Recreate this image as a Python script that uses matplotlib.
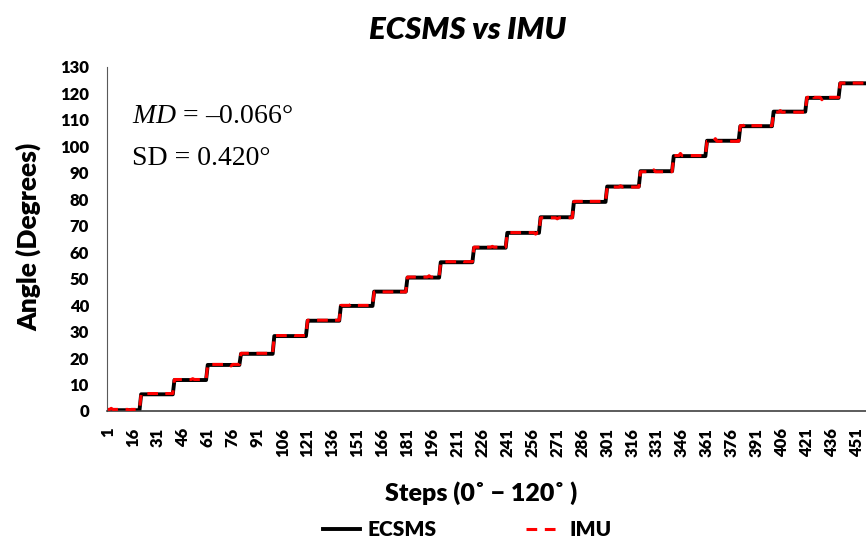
import numpy as np
import matplotlib
matplotlib.use("Agg")
import matplotlib.pyplot as plt

plt.rcParams["mathtext.fontset"] = "custom"
plt.rcParams["mathtext.it"] = "Liberation Serif:italic"
plt.rcParams["mathtext.rm"] = "Liberation Serif"

# Données
n_steps = 456
level_start = [1, 21, 41, 61, 81, 101, 121, 141, 161, 181, 201, 221, 241,
               261, 281, 301, 321, 341, 361, 381, 401, 421, 441]
ecsms_levels = [0.3, 6.3, 11.7, 17.4, 21.6, 28.3, 34.1, 39.7, 45.1, 50.4,
                56.2, 61.7, 67.3, 73.2, 79.0, 84.8, 90.6, 96.3, 102.1,
                107.6, 113.1, 118.3, 123.8]
imu_levels = [0.6, 6.6, 11.9, 17.6, 21.8, 28.5, 34.3, 39.9, 45.0, 50.6,
              56.4, 61.9, 67.4, 73.0, 79.2, 84.6, 90.4, 96.5, 101.9,
              107.8, 112.9, 118.5, 123.9]
# petites bosses de l'IMU (pas, valeur)
imu_bumps = [(3, 1.0), (14, 0.2), (33, 6.9), (52, 12.2), (75, 17.0),
             (98, 22.3), (112, 28.7), (136, 34.6), (147, 40.3), (175, 44.5),
             (194, 51.1), (214, 56.7), (232, 62.2), (258, 66.8), (271, 72.6),
             (289, 79.6), (309, 85.1), (329, 91.1), (345, 97.3), (366, 102.9),
             (384, 108.4), (405, 113.5), (424, 119.6), (430, 117.6),
             (447, 124.2)]

x_ticks = list(range(1, 452, 15))

steps = np.arange(1, n_steps + 1)
ecsms = np.zeros(n_steps)
imu = np.zeros(n_steps)
for i in range(len(level_start)):
    a = level_start[i] - 1
    b = level_start[i + 1] - 1 if i + 1 < len(level_start) else n_steps
    ecsms[a:b] = ecsms_levels[i]
    imu[a:b] = imu_levels[i]
for s, v in imu_bumps:
    imu[s - 1] = v

fig = plt.figure(figsize=(8.66, 5.44), dpi=100)
ax = fig.add_axes([0.1236, 0.2445, 0.8764, 0.6325])

ax.plot(steps, ecsms, color="black", lw=2.8, label="ECSMS", zorder=2)
ax.plot(steps, imu, color="#ff0000", lw=2.2, ls=(0, (3.5, 2.5)),
        label="IMU", zorder=3)

ax.set_xlim(0.5, n_steps + 0.5)
ax.set_ylim(0, 130)
ax.set_yticks(range(0, 131, 10))
ax.set_xticks(x_ticks)
ax.set_xticklabels([str(t) for t in x_ticks], rotation=90)
ax.tick_params(length=0)
ax.tick_params(axis="y", pad=13)
ax.tick_params(axis="x", pad=12)
for lab in ax.get_xticklabels() + ax.get_yticklabels():
    lab.set_family("Lato")
    lab.set_fontweight("heavy")
    lab.set_fontsize(12)
ax.spines["top"].set_visible(False)
ax.spines["right"].set_visible(False)
ax.spines["left"].set_color("#595959")
ax.spines["bottom"].set_color("#404040")
ax.spines["left"].set_linewidth(0.8)
ax.spines["bottom"].set_linewidth(1.2)

ax.text(0.033, 0.855, "$\\mathit{MD}$ = \u20130.066\u00b0",
        transform=ax.transAxes, fontsize=20, family="Liberation Serif",
        va="center")
ax.text(0.033, 0.733, "SD = 0.420\u00b0", transform=ax.transAxes,
        fontsize=20, family="Liberation Serif", va="center")

fig.text(0.540, 0.945, "ECSMS vs IMU", ha="center", va="center",
         family="Lato", fontsize=22.5, fontweight="heavy", style="italic")
fig.text(0.033, 0.564, "Angle (Degrees)", rotation=90, ha="center",
         va="center", family="Lato", fontsize=19, fontweight="heavy")
fig.text(0.555, 0.094, "Steps (0\u02da \u2212 120\u02da )", ha="center",
         va="center", family="Lato", fontsize=18, fontweight="heavy")

fig.legend(loc="center", bbox_to_anchor=(0.54, 0.026), ncol=2,
           frameon=False, handlelength=1.75, handletextpad=0.35,
           columnspacing=4.3,
           prop={"family": "Lato", "weight": "heavy", "size": 15})

fig.savefig("out.png", dpi=100)
